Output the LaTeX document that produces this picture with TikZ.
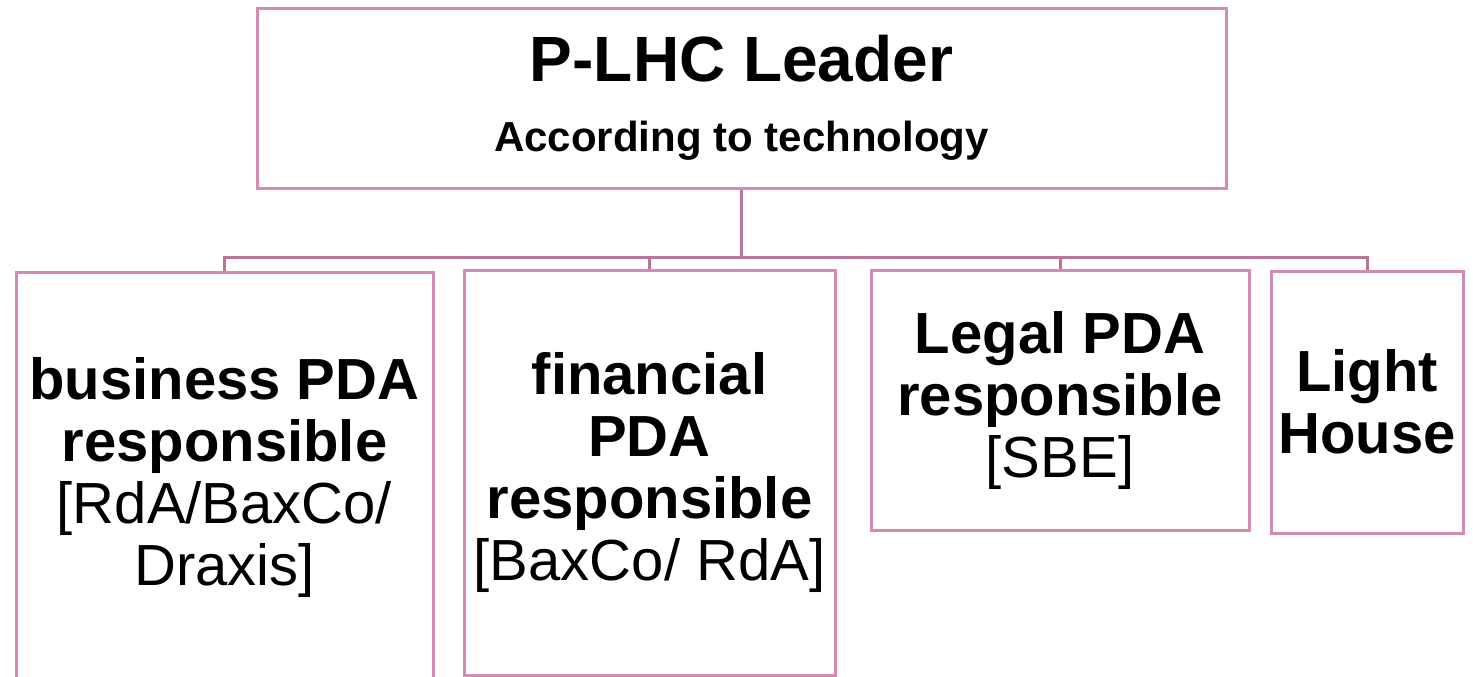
\documentclass[tikz,border=0pt]{standalone}
\usepackage{fontspec}
\setmainfont{Liberation Sans}
\usepackage{tikz}
\usetikzlibrary{shapes,arrows}
\definecolor{boxpink}{RGB}{212,140,180}
\definecolor{linkpink}{RGB}{186,116,152}
\tikzstyle{leadbox} = [rectangle, draw=boxpink, line width=1.5pt, align=center, inner sep=0pt,
    font=\bfseries\fontsize{32}{35}\selectfont, minimum width=484.5pt, minimum height=90pt]
\tikzstyle{rolebox} = [rectangle, draw=boxpink, line width=1.5pt, align=center, inner sep=0pt,
    font=\bfseries\fontsize{29}{31}\selectfont]
\tikzstyle{link} = [draw=linkpink, line width=1.5pt]

\begin{document}
\begin{tikzpicture}[x=0.5pt, y=-0.5pt]
    \useasboundingbox (0,0) rectangle (1473,676);
    % Place nodes
    \node [leadbox] (leader) at (741.5,98) {P-LHC Leader\\\fontsize{21}{21}\selectfont According to technology};
    \node [rolebox, minimum width=208.5pt, minimum height=205pt] (business) at (224.5,477)
        {business PDA\\responsible\\\textmd{[RdA/BaxCo/}\\\textmd{Draxis]}};
    \node [rolebox, minimum width=185.5pt, minimum height=202.5pt] (financial) at (649.5,472.5)
        {financial\\PDA\\responsible\\\textmd{[BaxCo/ RdA]}};
    \node [rolebox, minimum width=189pt, minimum height=130pt] (legal) at (1060,400)
        {Legal PDA\\responsible\\\textmd{[SBE]}};
    \node [rolebox, minimum width=96pt, minimum height=131pt] (light) at (1367,402)
        {Light\\House};
    \coordinate (bus) at (741.5,257);
    % Draw edges
    \foreach \role in {business,financial,legal,light}
        \path [link] (leader.south) -- (bus) -| (\role.north);
\end{tikzpicture}
\end{document}
